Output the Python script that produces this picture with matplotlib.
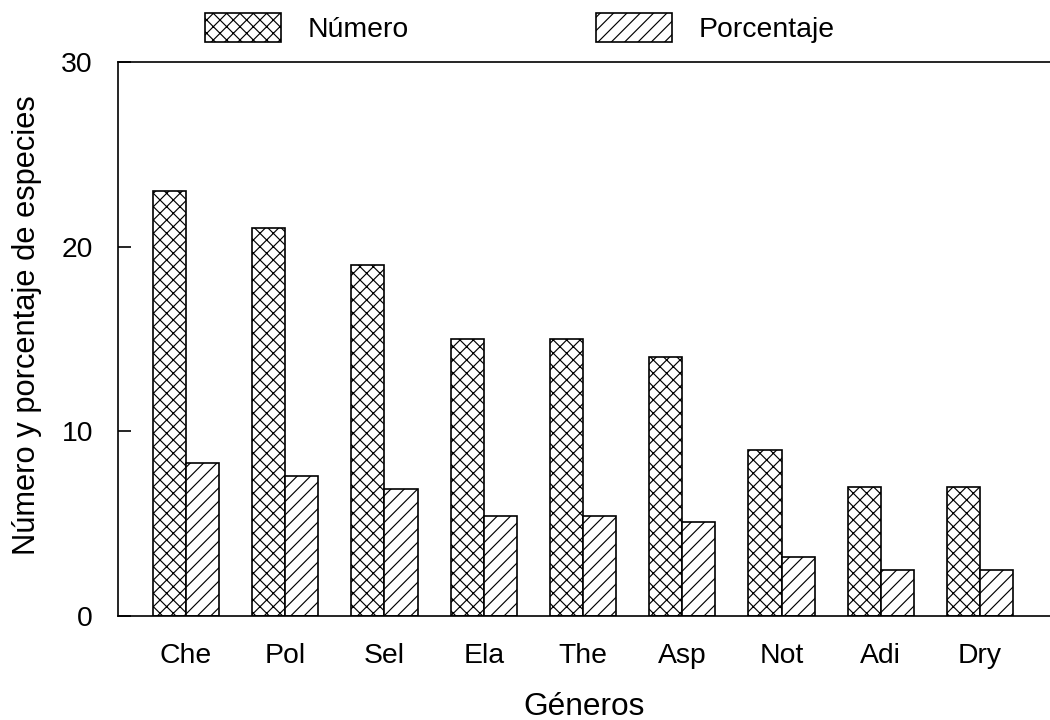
import numpy as np
import matplotlib
matplotlib.use("Agg")
import matplotlib.pyplot as plt

generos = ["Che", "Pol", "Sel", "Ela", "The", "Asp", "Not", "Adi", "Dry"]
numero = [23, 21, 19, 15, 15, 14, 9, 7, 7]
porcentaje = [8.3, 7.6, 6.9, 5.4, 5.4, 5.1, 3.2, 2.5, 2.5]

plt.rcParams["font.family"] = ["Liberation Sans", "DejaVu Sans"]
plt.rcParams["hatch.linewidth"] = 0.7

fig = plt.figure(figsize=(8.75, 6), dpi=120)
ax = fig.add_axes([118 / 1050, 1 - 616 / 720, 1 - 118 / 1050, (616 - 62) / 720])

x = np.arange(len(generos))
w = 0.333
ax.bar(x - w / 2, numero, w, color="white", edgecolor="black", linewidth=1.0,
       hatch="xxx", label="Número")
ax.bar(x + w / 2, porcentaje, w, color="white", edgecolor="black", linewidth=1.0,
       hatch="///", label="Porcentaje")

ax.set_xlim(-0.685, 8.705)
ax.set_ylim(0, 30)
ax.set_yticks([0, 10, 20, 30])
ax.set_xticks(x)
ax.set_xticklabels(generos)
ax.tick_params(axis="y", direction="in", length=7.8, width=1, pad=15, labelsize=17)
ax.tick_params(axis="x", length=0, pad=16, labelsize=17)
ax.spines["right"].set_visible(False)
for s in ["left", "top", "bottom"]:
    ax.spines[s].set_linewidth(1.0)

ax.set_xlabel("Géneros", fontsize=19, labelpad=14)
ax.set_ylabel("Número y porcentaje de especies", fontsize=18.5)
ax.yaxis.set_label_coords(-0.082, 0.525)

fig.legend(loc="upper left", bbox_to_anchor=(205 / 1050, 1 - 13 / 720),
           ncol=2, frameon=False, fontsize=17, handlelength=2.68,
           handleheight=1.2, handletextpad=0.95, columnspacing=6.6,
           borderpad=0, borderaxespad=0)

fig.savefig("out.png", dpi=120)
